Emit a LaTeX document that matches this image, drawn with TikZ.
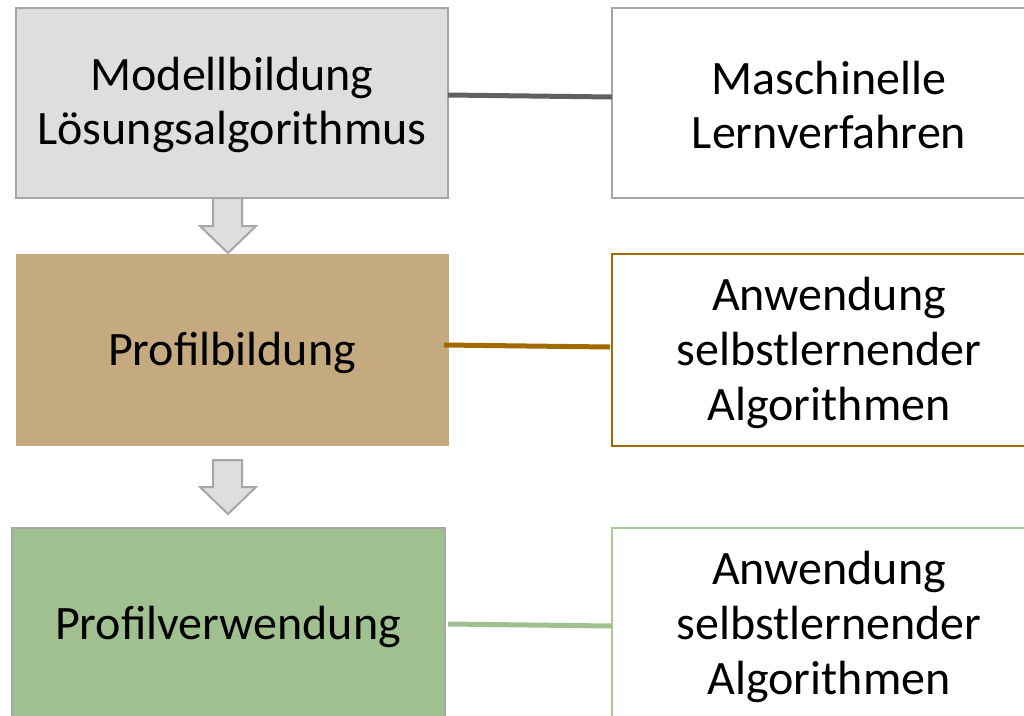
\documentclass[tikz,border=0pt]{standalone}
\usepackage{fontspec}
\setmainfont{Carlito}
\definecolor{lgray}{RGB}{222,222,222}
\definecolor{bgray}{RGB}{166,166,166}
\definecolor{tan}{RGB}{196,170,126}
\definecolor{brown}{RGB}{160,106,0}
\definecolor{sage}{RGB}{160,192,144}
\definecolor{lsage}{RGB}{168,202,150}
\definecolor{dgray}{RGB}{96,96,96}
\begin{document}
\begin{tikzpicture}[x=0.75pt,y=-0.75pt,
  txt/.style={font=\fontsize{36}{41}\selectfont,align=center,text=black},
  box/.style={line width=1.5pt},
  conn/.style={line width=3.75pt},
  barrow/.style={draw=bgray,fill=lgray,line width=1.5pt,line join=miter}]
\useasboundingbox (0,0) rectangle (1024,715);
\begin{scope}
\clip (0,0) rectangle (1024,715);
% block arrows
\draw[barrow] (213,198) -- (242,198) -- (242,226) -- (256,226) -- (228,253) -- (200,226) -- (213,226) -- cycle;
\draw[barrow] (213,460) -- (242,460) -- (242,487) -- (256,487) -- (228,514) -- (200,487) -- (213,487) -- cycle;
% left boxes
\draw[box,draw=bgray,fill=lgray] (16,8) rectangle (448,198);
\node[txt] (m) at (232,105) {Modellbildung\\Lösungsalgorithmus};
\coordinate (mr) at (448,95);
\fill[tan] (16,254) rectangle (449,446);
\node[txt] (p) at (232,353) {Profilbildung};
\coordinate (pr) at (444,345);
\draw[box,draw=bgray,fill=sage] (12,528) rectangle (445,725);
\node[txt] (v) at (228,627) {Profilverwendung};
\coordinate (vr) at (448,624);
% right boxes
\draw[box,draw=bgray,fill=white] (612,8) rectangle (1040,198);
\node[txt] (r1) at (829,105) {Maschinelle\\Lernverfahren};
\coordinate (r1l) at (612,97);
\draw[box,draw=brown,fill=white] (612,254) rectangle (1040,446);
\node[txt] (r2) at (829,353) {Anwendung\\selbstlernender\\Algorithmen};
\coordinate (r2l) at (610,347);
\draw[box,draw=lsage,fill=white] (612,528) rectangle (1040,730);
\node[txt] (r3) at (829,627) {Anwendung\\selbstlernender\\Algorithmen};
\coordinate (r3l) at (612,626);
% connectors
\draw[conn,dgray] (mr) -- (r1l);
\draw[conn,brown] (pr) -- (r2l);
\draw[conn,sage] (vr) -- (r3l);
\end{scope}
\end{tikzpicture}
\end{document}
